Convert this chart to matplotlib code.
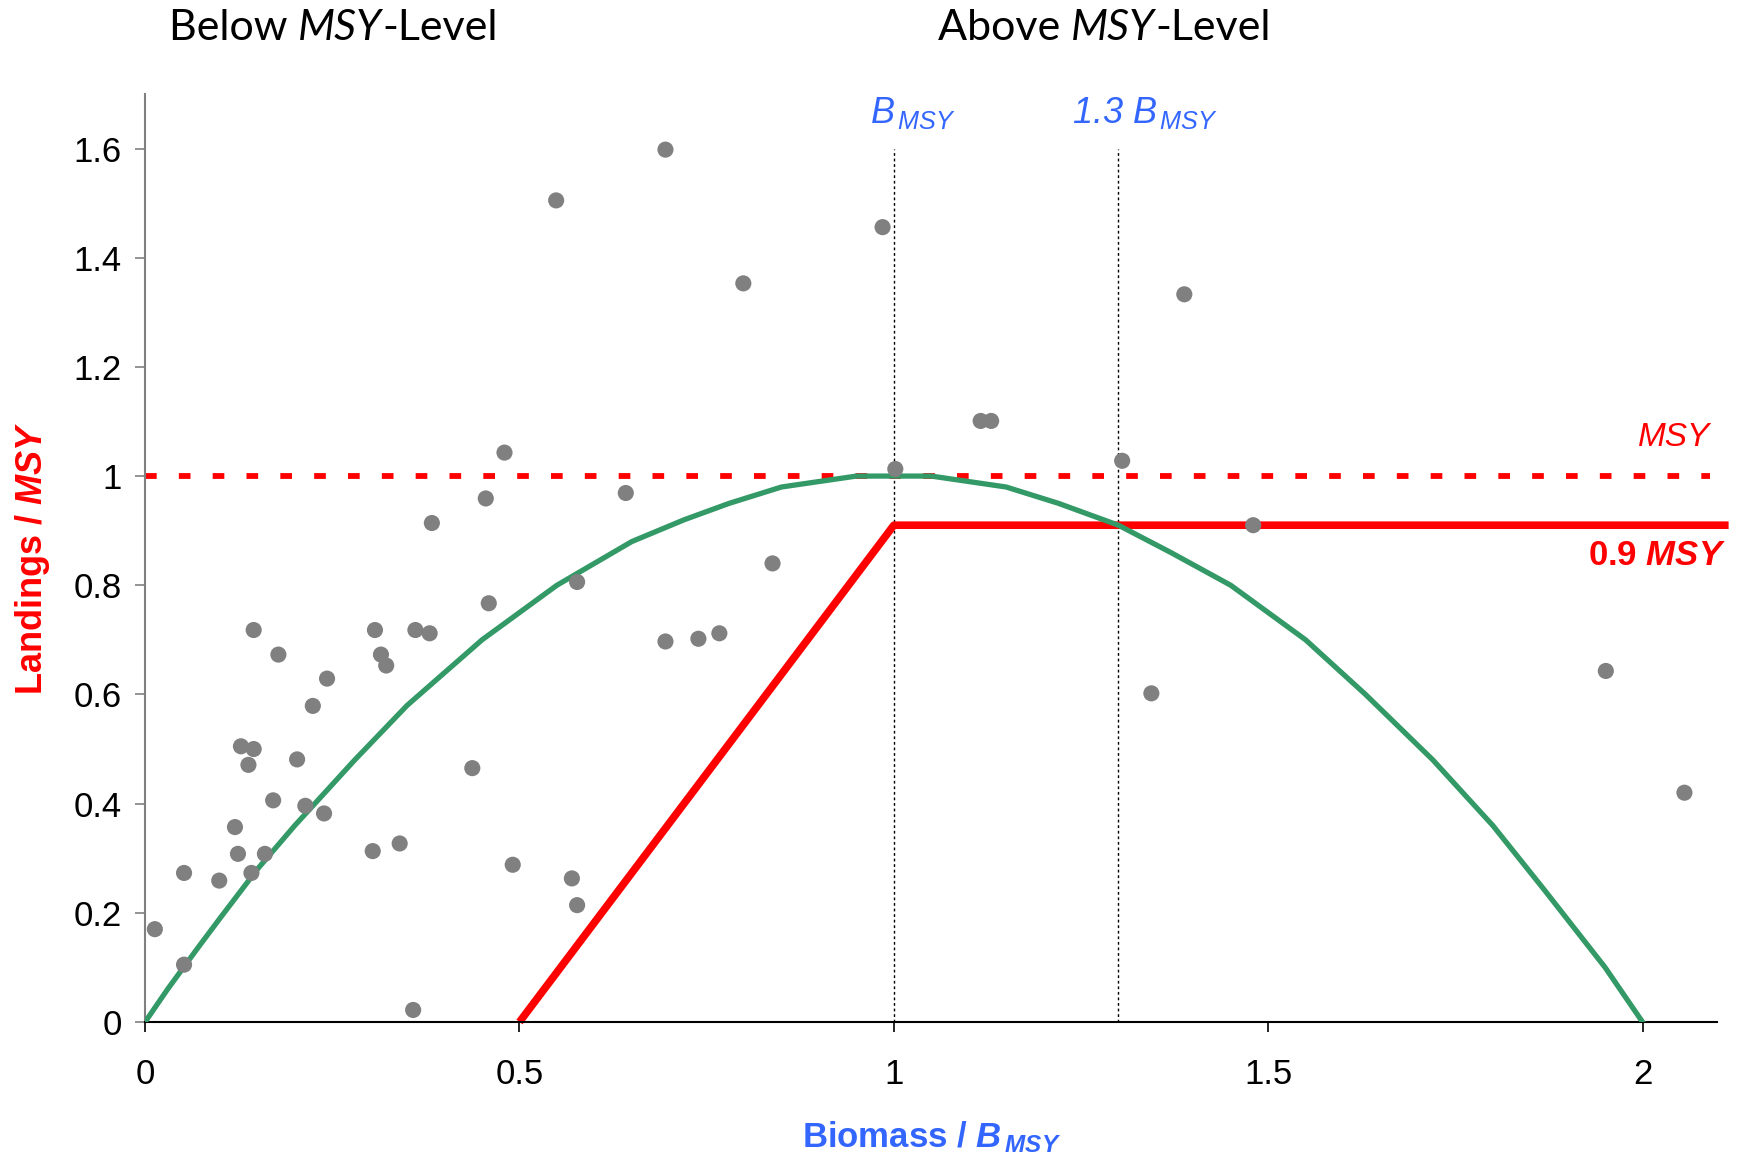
import matplotlib
matplotlib.use("Agg")
import matplotlib.pyplot as plt

plt.rcParams['font.family'] = ['Liberation Sans', 'DejaVu Sans']
plt.rcParams['mathtext.fontset'] = 'custom'
plt.rcParams['mathtext.rm'] = 'Liberation Sans'
plt.rcParams['mathtext.it'] = 'Liberation Sans:italic'
plt.rcParams['mathtext.bf'] = 'Liberation Sans:bold'
plt.rcParams['mathtext.bfit'] = 'Liberation Sans:italic:bold'

# stock observations (biomass / Bmsy, landings / MSY)
biomass = [0.013, 0.052, 0.052, 0.099, 0.120, 0.124, 0.142, 0.160, 0.128,
           0.145, 0.138, 0.145, 0.178, 0.171, 0.203, 0.214, 0.224, 0.243,
           0.239, 0.307, 0.315, 0.322, 0.304, 0.340, 0.358, 0.361, 0.380,
           0.383, 0.437, 0.455, 0.459, 0.480, 0.491, 0.570, 0.577, 0.577,
           0.642, 0.695, 0.739, 0.767, 0.838, 0.695, 0.549, 0.985, 0.799,
           1.388, 1.116, 1.130, 1.002, 1.305, 1.480, 1.344, 1.951, 2.056]
landings = [0.170, 0.105, 0.273, 0.259, 0.357, 0.308, 0.273, 0.308, 0.505,
            0.500, 0.471, 0.718, 0.673, 0.406, 0.481, 0.396, 0.579, 0.629,
            0.382, 0.718, 0.673, 0.653, 0.313, 0.327, 0.022, 0.718, 0.712,
            0.914, 0.465, 0.959, 0.767, 1.043, 0.288, 0.263, 0.214, 0.806,
            0.969, 0.697, 0.702, 0.712, 0.840, 1.598, 1.505, 1.456, 1.353,
            1.333, 1.101, 1.101, 1.013, 1.028, 0.910, 0.602, 0.643, 0.420]

# surplus production curve
curve_x = [0, 0.03, 0.07, 0.1, 0.15, 0.2, 0.28, 0.35, 0.45, 0.55, 0.65,
           0.72, 0.78, 0.85, 0.9, 0.95, 1.0, 1.05, 1.1, 1.15, 1.22, 1.3,
           1.37, 1.45, 1.55, 1.63, 1.72, 1.8, 1.87, 1.95, 2.0]
curve_y = [0, 0.06, 0.135, 0.19, 0.28, 0.36, 0.48, 0.58, 0.70, 0.80, 0.88,
           0.92, 0.95, 0.98, 0.99, 1.0, 1.0, 1.0, 0.99, 0.98, 0.95, 0.91,
           0.86, 0.80, 0.70, 0.60, 0.48, 0.36, 0.24, 0.10, 0.0]

# harvest control rule
hcr_x = [0.5, 1.0, 2.115]
hcr_y = [0.0, 0.91, 0.91]

msy_x = [0, 2.09]
msy_y = [1.0, 1.0]

ref_points = [1.0, 1.3]
ref_labels = [r'$\mathit{B}_{\,\mathit{MSY}}$',
              r'1.3 $\mathit{B}_{\,\mathit{MSY}}$']
ref_top = 1.6

yticks = [0, 0.2, 0.4, 0.6, 0.8, 1.0, 1.2, 1.4, 1.6]
xticks = [0, 0.5, 1, 1.5, 2]

red = '#ff0000'
blue = '#3366ff'
green = '#339966'
grey = '#808080'

fig = plt.figure(figsize=(17.4, 11.57), dpi=100)
ax = fig.add_axes([0.0834, 0.1167, 0.9036, 0.8021])

for xr in ref_points:
    ax.plot([xr, xr], [0, ref_top], color='black', lw=1.0,
            linestyle=(0, (2, 2)), zorder=1)

ax.plot(msy_x, msy_y, color=red, lw=4.2, linestyle=(0, (2.0, 3.8)),
        dash_capstyle='butt', zorder=2)
ax.plot(hcr_x, hcr_y, color=red, lw=5.5, solid_capstyle='butt',
        clip_on=False, zorder=2)
ax.plot(curve_x, curve_y, color=green, lw=3.8, zorder=3)
ax.scatter(biomass, landings, s=135, color=grey, edgecolors='none',
           zorder=4, clip_on=False)

ref_x = [1.025, 1.335]
for xr, lab in zip(ref_x, ref_labels):
    ax.text(xr, 1.665, lab, color=blue, fontsize=26, fontstyle='italic',
            ha='center', va='center')

ax.text(2.09, 1.07, 'MSY', color=red, fontsize=24, fontstyle='italic',
        ha='right', va='center')
ax.text(2.112, 0.855, r'0.9 $\mathbfit{MSY}$', color=red, fontsize=25,
        fontweight='bold', ha='right', va='center')

ax.set_xlim(0, 2.1)
ax.set_ylim(0, 1.7)
ax.set_xticks(xticks)
ax.set_xticklabels(['%g' % v for v in xticks])
ax.set_yticks(yticks)
ax.set_yticklabels(['%g' % v for v in yticks])

for side in ['top', 'right']:
    ax.spines[side].set_visible(False)
ax.spines['left'].set_color(grey)
ax.spines['left'].set_linewidth(1.5)
ax.spines['bottom'].set_color('black')
ax.spines['bottom'].set_linewidth(1.5)

ax.tick_params(axis='y', direction='out', length=7, width=1.2,
               color=grey, labelsize=25, pad=10)
ax.tick_params(axis='x', direction='out', length=7, width=1.2,
               color='black', labelsize=25, pad=19)

ax.set_xlabel(r'Biomass / $\mathbfit{B}_{\,\mathbfit{MSY}}$', color=blue,
              fontsize=25, fontweight='bold', labelpad=20)
ax.set_ylabel(r'Landings / $\mathbfit{MSY}$', color=red, fontsize=26,
              fontweight='bold', labelpad=15)

# section headings with italic MSY, chained text pieces
for xs, word in [(0.097, 'Below '), (0.539, 'Above ')]:
    t1 = fig.text(xs, 0.976, word, fontsize=31, family='Lato',
                  ha='left', va='center')
    t2 = ax.annotate('MSY', xy=(1, 0), xycoords=t1, fontsize=31,
                     family='Lato', fontstyle='italic', ha='left',
                     va='bottom', annotation_clip=False)
    ax.annotate('-Level', xy=(1, 0), xycoords=t2, fontsize=31,
                family='Lato', ha='left', va='bottom',
                annotation_clip=False)

fig.savefig('out.png', dpi=100)
